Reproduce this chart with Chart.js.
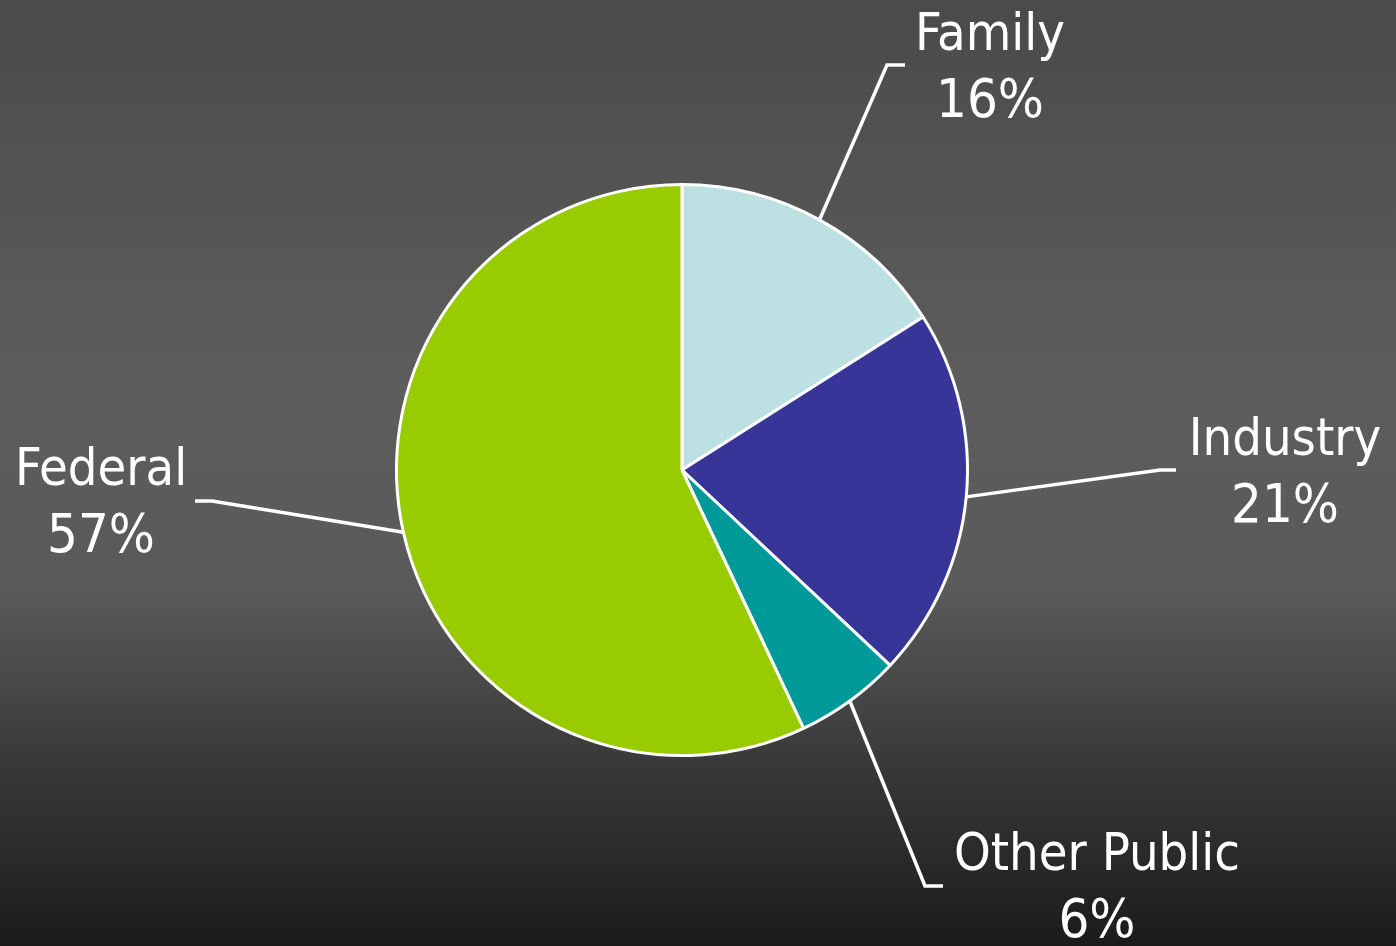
<!DOCTYPE html>
<html>
<head>
<meta charset="utf-8">
<script src="https://cdn.jsdelivr.net/npm/chart.js@4"></script>
<style>
  html, body { margin: 0; padding: 0; background: #1c1c1c; }
  #wrap { width: 1396px; height: 946px; position: relative; }
</style>
</head>
<body>
<div id="wrap"><canvas id="pie-chart"></canvas></div>
<script>
// Data
var categories = ['Family', 'Industry', 'Other Public', 'Federal'];
var shares = [16, 21, 6, 57];
var sliceColors = ['#bde0e3', '#383598', '#009999', '#99cc00'];

// Label layout, offsets from pie centre: elbow point, hook length, text anchor
var labelLayout = [
  { ex: 205, ey: -405, hook: 18, tx: 308, ty: -434 },
  { ex: 478, ey: 0, hook: 16, tx: 603, ty: -29 },
  { ex: 243, ey: 416, hook: 18, tx: 415, ty: 386 },
  { ex: -470, ey: 31, hook: -17, tx: -581, ty: 1 }
];

var labelFont = "52px 'DejaVu Sans Condensed', 'DejaVu Sans', sans-serif";
var percentFont = "54px 'DejaVu Sans Condensed', 'DejaVu Sans', sans-serif";

// Background gradient plugin
var backgroundPlugin = {
  id: 'bg',
  beforeDraw: function (chart) {
    var ctx = chart.ctx;
    var g = ctx.createLinearGradient(0, 0, 0, chart.height);
    g.addColorStop(0, '#4a4a4a');
    g.addColorStop(0.4, '#5d5d5d');
    g.addColorStop(0.62, '#5a5a5a');
    g.addColorStop(0.8, '#3a3a3a');
    g.addColorStop(1, '#1b1b1b');
    ctx.save();
    ctx.fillStyle = g;
    ctx.fillRect(0, 0, chart.width, chart.height);
    ctx.restore();
  }
};

// Leader lines and labels
var labelPlugin = {
  id: 'leaderLabels',
  afterDatasetsDraw: function (chart) {
    var ctx = chart.ctx;
    var meta = chart.getDatasetMeta(0);
    ctx.save();
    ctx.strokeStyle = '#ffffff';
    ctx.lineWidth = 3.5;
    ctx.fillStyle = '#ffffff';
    ctx.textAlign = 'center';
    ctx.textBaseline = 'middle';
    meta.data.forEach(function (arc, i) {
      var p = arc.getProps(['x', 'y', 'startAngle', 'endAngle', 'outerRadius'], true);
      var mid = (p.startAngle + p.endAngle) / 2;
      var sx = p.x + Math.cos(mid) * p.outerRadius;
      var sy = p.y + Math.sin(mid) * p.outerRadius;
      var L = labelLayout[i];
      var ex = p.x + L.ex, ey = p.y + L.ey;
      ctx.beginPath();
      ctx.moveTo(sx, sy);
      ctx.lineTo(ex, ey);
      ctx.lineTo(ex + L.hook, ey);
      ctx.stroke();
      ctx.font = labelFont;
      ctx.fillText(categories[i], p.x + L.tx, p.y + L.ty);
      ctx.font = percentFont;
      ctx.fillText(shares[i] + '%', p.x + L.tx, p.y + L.ty + 67);
    });
    ctx.restore();
  }
};

var ctx = document.getElementById('pie-chart').getContext('2d');
var chart = new Chart(ctx, {
  type: 'pie',
  data: {
    labels: categories,
    datasets: [{
      data: shares,
      backgroundColor: sliceColors,
      borderColor: '#ffffff',
      borderWidth: 3
    }]
  },
  options: {
    responsive: true,
    maintainAspectRatio: false,
    animation: false,
    layout: {
      padding: { left: 395, right: 427, top: 183, bottom: 189 }
    },
    plugins: {
      legend: { display: false },
      tooltip: { enabled: false }
    }
  },
  plugins: [backgroundPlugin, labelPlugin]
});
</script>
</body>
</html>
